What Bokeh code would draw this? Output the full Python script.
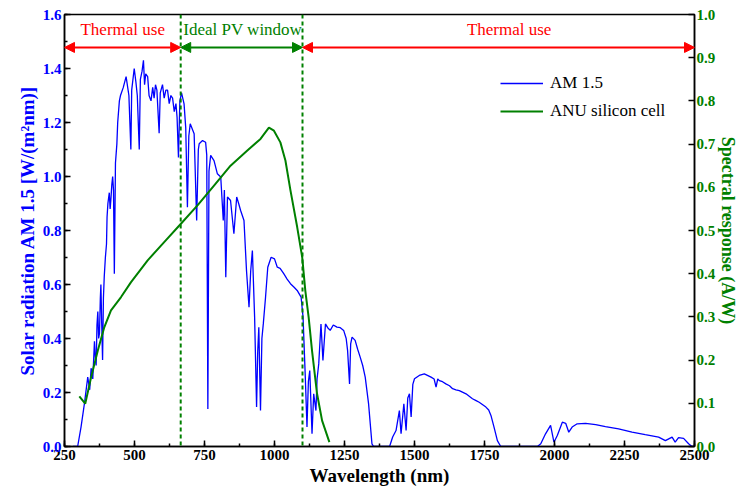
from bokeh.plotting import figure
from bokeh.models import (Range1d, LinearAxis, Legend, LegendItem, Arrow, NormalHead,
                          Label, Span, SingleIntervalTicker, FixedTicker, PrintfTickFormatter)
from bokeh.embed import file_html
from bokeh.resources import INLINE

# ---------------- data ----------------
am_wl = [280, 297, 309, 321, 333, 340, 345, 351, 357, 360, 363, 366, 369, 372, 375, 378, 380, 383,
         386, 389, 392, 396, 400, 402, 405, 410, 413, 416, 419, 422, 425, 428, 432, 437, 440, 446,
         450, 460, 470, 480, 487, 490, 499, 505, 510, 517, 521, 527, 532, 536, 540, 547, 552, 559,
         565, 570, 575, 580, 588, 592, 600, 606, 612, 618, 624, 630, 636, 642, 648, 652, 657, 662,
         668, 677, 683, 689, 694, 699,
         713, 722, 728, 731, 743, 754, 758, 762, 766, 772, 784, 796, 808, 817, 821, 826, 832, 843,
         855, 865, 872, 879, 891, 900, 909, 915, 921, 929, 936, 940, 944, 950, 955, 960, 968, 976,
         988, 1000, 1010, 1020, 1033, 1045, 1057, 1070, 1081, 1095, 1102, 1110, 1116, 1121, 1126,
         1134, 1140, 1148, 1152, 1158, 1166, 1173, 1182, 1190, 1199, 1210, 1223, 1235, 1247, 1256,
         1261, 1268, 1272, 1277, 1288, 1297, 1306, 1315, 1324, 1336, 1348, 1354, 1411, 1422, 1434,
         1446, 1452, 1462, 1470, 1476, 1482, 1488, 1494, 1500, 1517, 1535, 1559, 1570, 1577, 1583,
         1589, 1600, 1612, 1625, 1636, 1648, 1660, 1684, 1707, 1720, 1731, 1755, 1765, 1773, 1784,
         1796, 1808, 1939, 1951, 1968, 1986, 1998, 2010, 2028, 2040, 2051, 2063, 2081, 2111, 2147,
         2182, 2229, 2277, 2324, 2372, 2396, 2420, 2431, 2443, 2461, 2479, 2491, 2500]
am_irr = [0.0, 0.0, 0.072, 0.158, 0.257, 0.21, 0.29, 0.25, 0.39, 0.33, 0.30, 0.45, 0.50, 0.40,
          0.42, 0.55, 0.60, 0.45, 0.32, 0.55, 0.63, 0.70, 0.75, 0.85, 0.90, 0.94, 0.88, 0.92, 0.97,
          1.00, 0.95, 0.64, 1.05, 1.12, 1.20, 1.28, 1.30, 1.33, 1.37, 1.30, 1.10, 1.32, 1.40, 1.35,
          1.30, 1.10, 1.36, 1.39, 1.43, 1.34, 1.38, 1.37, 1.30, 1.28, 1.33, 1.29, 1.34, 1.32, 1.16,
          1.31, 1.34, 1.29, 1.32, 1.32, 1.27, 1.30, 1.29, 1.24, 1.27, 1.22, 1.07, 1.28, 1.31,
          1.269, 1.18, 0.886, 1.15, 1.195, 1.158,
          0.837, 1.10, 1.121, 1.133, 1.127, 1.08, 0.139, 1.02, 1.078, 1.059, 1.010, 0.998, 0.837,
          0.95, 0.627, 0.924, 0.911, 0.788, 0.924, 0.90, 0.874, 0.837, 0.652, 0.516, 0.65, 0.726,
          0.479, 0.146, 0.35, 0.442, 0.133, 0.40, 0.454, 0.553, 0.664, 0.701, 0.695, 0.664, 0.66,
          0.640, 0.62, 0.603, 0.59, 0.578, 0.553, 0.479, 0.257, 0.072, 0.24, 0.281, 0.047, 0.195,
          0.133, 0.25, 0.306, 0.454, 0.319, 0.454, 0.44, 0.430, 0.45, 0.442, 0.44, 0.430, 0.40,
          0.356, 0.232, 0.38, 0.405, 0.393, 0.36, 0.331, 0.30, 0.257, 0.158, 0.01, 0.0, 0.0, 0.035,
          0.059, 0.133, 0.047, 0.158, 0.059, 0.18, 0.195, 0.109, 0.23, 0.251, 0.263, 0.269, 0.257,
          0.25, 0.220, 0.25, 0.244, 0.24, 0.232, 0.225, 0.214, 0.21, 0.207, 0.195, 0.177, 0.17,
          0.164, 0.146, 0.135, 0.115, 0.072, 0.022, 0.0, 0.0, 0.01, 0.047, 0.078, 0.016, 0.041,
          0.090, 0.086, 0.053, 0.072, 0.084, 0.086, 0.081, 0.074, 0.065, 0.053, 0.044, 0.035,
          0.022, 0.035, 0.016, 0.033, 0.030, 0.01, 0.0, 0.0]

sr_wl = [303, 324, 345, 369, 392, 416, 452, 487, 547, 606, 665, 725, 784, 843, 903, 950, 980, 998,
         1021, 1039, 1057, 1081, 1099, 1110, 1122, 1134, 1152, 1170, 1196]
sr_val = [0.116, 0.099, 0.160, 0.222, 0.276, 0.315, 0.346, 0.380, 0.431, 0.473, 0.515, 0.558,
          0.604, 0.650, 0.685, 0.712, 0.738, 0.731, 0.704, 0.662, 0.593, 0.508, 0.438, 0.361,
          0.299, 0.222, 0.122, 0.060, 0.010]

pv_window = [665, 1100]
region_labels = ["Thermal use", "Ideal PV window", "Thermal use"]
sr_ticks = [0.0, 0.1, 0.2, 0.3, 0.4, 0.5, 0.6, 0.7, 0.8, 0.9, 1.0]

BLUE = "#0000FF"
GREEN = "#008000"
RED = "#FF0000"
FONT = "Liberation Serif"

p = figure(width=741, height=495, x_range=Range1d(250, 2500), y_range=Range1d(0, 1.6),
           output_backend="svg", toolbar_location=None,
           min_border_left=64, min_border_right=45, min_border_top=14, min_border_bottom=49)
p.extra_y_ranges = {"sr": Range1d(0, 1.0)}
p.xgrid.visible = False
p.ygrid.visible = False
p.outline_line_color = "black"
p.outline_line_width = 1.5
p.background_fill_color = "white"


def style_axis(ax, color, label_size="19px"):
    ax.axis_line_color = "black"
    ax.axis_line_width = 1.5
    ax.major_tick_in = 6
    ax.major_tick_out = 0
    ax.minor_tick_in = 3
    ax.minor_tick_out = 0
    ax.major_tick_line_color = "black"
    ax.minor_tick_line_color = "black"
    ax.major_tick_line_width = 1.5
    ax.minor_tick_line_width = 1.5
    ax.major_label_text_font = FONT
    ax.major_label_text_font_style = "bold"
    ax.major_label_text_font_size = "15px"
    ax.major_label_text_color = color
    ax.major_label_standoff = 3
    ax.axis_label_text_font = FONT
    ax.axis_label_text_font_style = "bold"
    ax.axis_label_text_font_size = label_size
    ax.axis_label_text_color = color
    ax.axis_label_standoff = 2


xax = p.xaxis[0]
xax.ticker = SingleIntervalTicker(interval=250, num_minor_ticks=2)
xax.axis_label = "Wavelength (nm)"
style_axis(xax, "black")

yax = p.yaxis[0]
yax.ticker = SingleIntervalTicker(interval=0.2, num_minor_ticks=2)
yax.formatter = PrintfTickFormatter(format="%.1f")
yax.axis_label = "Solar radiation AM 1.5 [W/(m\u00b2nm)]"
style_axis(yax, BLUE)

rax = LinearAxis(y_range_name="sr", ticker=FixedTicker(ticks=sr_ticks, minor_ticks=[]),
                 formatter=PrintfTickFormatter(format="%.1f"),
                 axis_label="Spectral response (A/W)")
style_axis(rax, GREEN, label_size="18px")
rax.axis_label_standoff = 0
rax.major_label_standoff = 2
p.add_layout(rax, "right")

r_am = p.line(am_wl, am_irr, line_color=BLUE, line_width=1.3)
r_sr = p.line(sr_wl, sr_val, line_color=GREEN, line_width=2, y_range_name="sr")

for loc in pv_window:
    p.add_layout(Span(location=loc, dimension="height", line_color=GREEN,
                      line_dash="4 3", line_width=2))

arrow_y = 1.478
segs = [(250, pv_window[0], RED), (pv_window[0], pv_window[1], GREEN), (pv_window[1], 2500, RED)]
for (x0, x1, c) in segs:
    p.add_layout(Arrow(start=NormalHead(size=10, fill_color=c, line_color=c),
                       end=NormalHead(size=10, fill_color=c, line_color=c),
                       x_start=x0, y_start=arrow_y, x_end=x1, y_end=arrow_y,
                       line_color=c, line_width=2))

label_pos = [(307, "left", RED), (674, "left", GREEN), (1838, "center", RED)]
for txt, (lx, al, c) in zip(region_labels, label_pos):
    p.add_layout(Label(x=lx, y=1.544, text=txt, text_align=al, text_baseline="middle",
                       text_color=c, text_font=FONT, text_font_size="17px"))

legend = Legend(items=[LegendItem(label="AM 1.5", renderers=[r_am]),
                       LegendItem(label="ANU silicon cell", renderers=[r_sr])],
                location=(436, 325), padding=0, margin=0, spacing=8,
                glyph_width=43, glyph_height=20, label_height=20, label_standoff=7,
                label_text_font=FONT, label_text_font_size="17px", label_text_color="black",
                border_line_alpha=0, background_fill_alpha=0)
p.add_layout(legend, "center")

open("out.html", "w").write(file_html(p, INLINE))
